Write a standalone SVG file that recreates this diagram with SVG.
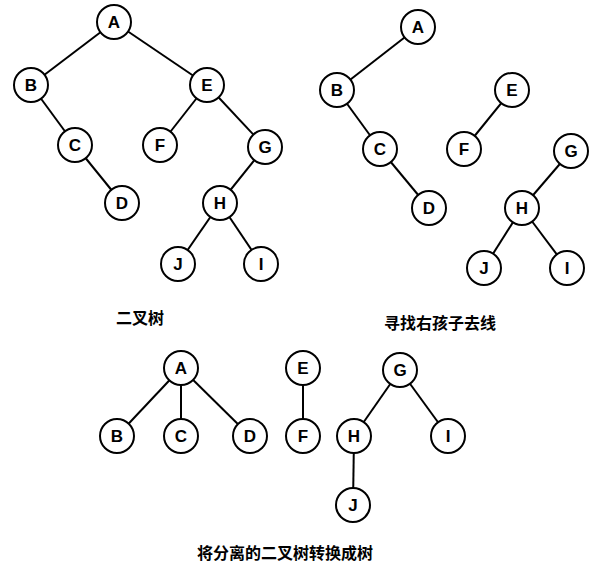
<svg xmlns="http://www.w3.org/2000/svg" width="602" height="572" viewBox="0 0 602 572">
<style>
.n circle{fill:#fff;stroke:#000;stroke-width:2}
.n text{font-family:"Liberation Sans",Arial,sans-serif;font-size:17px;font-weight:bold;text-anchor:middle;dominant-baseline:central}
#edges line{stroke:#000;stroke-width:2}
.lbl{font-family:"Liberation Sans","Noto Sans CJK SC",sans-serif;font-size:16px;font-weight:bold;text-anchor:middle}
</style>
<rect width="602" height="572" fill="#fff"/>
<g id="edges">
<line x1="114" y1="22" x2="31" y2="85"/><line x1="114" y1="22" x2="207" y2="85"/>
<line x1="31" y1="85" x2="75" y2="145"/><line x1="75" y1="145" x2="122" y2="203"/>
<line x1="207" y1="85" x2="160" y2="145"/><line x1="207" y1="85" x2="265" y2="147"/>
<line x1="265" y1="147" x2="220" y2="203"/><line x1="220" y1="203" x2="178" y2="264"/><line x1="220" y1="203" x2="261" y2="264"/>
<line x1="418" y1="27" x2="337" y2="90"/><line x1="337" y1="90" x2="380" y2="149"/><line x1="380" y1="149" x2="429" y2="208"/>
<line x1="512" y1="90" x2="464" y2="149"/><line x1="571" y1="151" x2="522" y2="208"/>
<line x1="522" y1="208" x2="484" y2="268"/><line x1="522" y1="208" x2="567" y2="268"/>
<line x1="181" y1="368" x2="117" y2="436"/><line x1="181" y1="368" x2="181" y2="436"/><line x1="181" y1="368" x2="250" y2="436"/>
<line x1="303" y1="368" x2="303" y2="436"/>
<line x1="400" y1="370" x2="354" y2="436"/><line x1="400" y1="370" x2="448" y2="436"/><line x1="354" y1="436" x2="353" y2="505"/>
</g>
<g id="t1A" class="n"><circle cx="114" cy="22" r="17"/><text x="114" y="22">A</text></g>
<g id="t1B" class="n"><circle cx="31" cy="85" r="17"/><text x="31" y="85">B</text></g>
<g id="t1E" class="n"><circle cx="207" cy="85" r="17"/><text x="207" y="85">E</text></g>
<g id="t1C" class="n"><circle cx="75" cy="145" r="17"/><text x="75" y="145">C</text></g>
<g id="t1F" class="n"><circle cx="160" cy="145" r="17"/><text x="160" y="145">F</text></g>
<g id="t1G" class="n"><circle cx="265" cy="147" r="17"/><text x="265" y="147">G</text></g>
<g id="t1D" class="n"><circle cx="122" cy="203" r="17"/><text x="122" y="203">D</text></g>
<g id="t1H" class="n"><circle cx="220" cy="203" r="17"/><text x="220" y="203">H</text></g>
<g id="t1J" class="n"><circle cx="178" cy="264" r="17"/><text x="178" y="264">J</text></g>
<g id="t1I" class="n"><circle cx="261" cy="264" r="17"/><text x="261" y="264">I</text></g>
<g id="t2A" class="n"><circle cx="418" cy="27" r="17"/><text x="418" y="27">A</text></g>
<g id="t2B" class="n"><circle cx="337" cy="90" r="17"/><text x="337" y="90">B</text></g>
<g id="t2E" class="n"><circle cx="512" cy="90" r="17"/><text x="512" y="90">E</text></g>
<g id="t2C" class="n"><circle cx="380" cy="149" r="17"/><text x="380" y="149">C</text></g>
<g id="t2F" class="n"><circle cx="464" cy="149" r="17"/><text x="464" y="149">F</text></g>
<g id="t2G" class="n"><circle cx="571" cy="151" r="17"/><text x="571" y="151">G</text></g>
<g id="t2D" class="n"><circle cx="429" cy="208" r="17"/><text x="429" y="208">D</text></g>
<g id="t2H" class="n"><circle cx="522" cy="208" r="17"/><text x="522" y="208">H</text></g>
<g id="t2J" class="n"><circle cx="484" cy="268" r="17"/><text x="484" y="268">J</text></g>
<g id="t2I" class="n"><circle cx="567" cy="268" r="17"/><text x="567" y="268">I</text></g>
<g id="t3A" class="n"><circle cx="181" cy="368" r="17"/><text x="181" y="368">A</text></g>
<g id="t3B" class="n"><circle cx="117" cy="436" r="17"/><text x="117" y="436">B</text></g>
<g id="t3C" class="n"><circle cx="181" cy="436" r="17"/><text x="181" y="436">C</text></g>
<g id="t3D" class="n"><circle cx="250" cy="436" r="17"/><text x="250" y="436">D</text></g>
<g id="t3E" class="n"><circle cx="303" cy="368" r="17"/><text x="303" y="368">E</text></g>
<g id="t3F" class="n"><circle cx="303" cy="436" r="17"/><text x="303" y="436">F</text></g>
<g id="t3G" class="n"><circle cx="400" cy="370" r="17"/><text x="400" y="370">G</text></g>
<g id="t3H" class="n"><circle cx="354" cy="436" r="17"/><text x="354" y="436">H</text></g>
<g id="t3I" class="n"><circle cx="448" cy="436" r="17"/><text x="448" y="436">I</text></g>
<g id="t3J" class="n"><circle cx="353" cy="505" r="17"/><text x="353" y="505">J</text></g>
<text class="lbl" x="140" y="324">二叉树</text>
<text class="lbl" x="440" y="329">寻找右孩子去线</text>
<text class="lbl" x="285" y="559">将分离的二叉树转换成树</text>
</svg>
